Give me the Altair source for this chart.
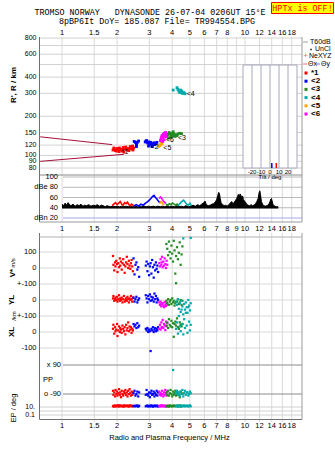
import altair as alt
import pandas as pd

N = float("nan")

# ---------------- data ----------------
series_names = ["*1", "<2", "<3", "<4", "<5", "<6"]
series_colors = ["#ff0000", "#0000ff", "#228b22", "#00aaaa", "#ffa500", "#ff00ff"]

freq_ticks = [1, 1.5, 2, 3, 4, 5, 6, 7, 8, 10, 12, 14, 16, 18]
freq_ticks_mid = [1, 1.5, 2, 3, 4, 5, 6, 7, 8, 9, 10, 12, 14, 16, 18]
freq_grid = [1, 1.5, 2, 3, 4, 5, 6, 7, 8, 9, 10, 12, 14, 16, 18]

range_ticks = [800, 600, 400, 300, 200, 150, 120, 100, 90, 80]
range_grid = [800, 700, 600, 500, 400, 300, 200, 150, 120, 100, 90, 80]

db_ticks = ["100", "dBe 80", "60", "40", "dBn 20"]
db_vals = [100, 80, 60, 40, 20]

tilt_ticks = [-20, -10, 0, 10, 20]
tilt_x = 7   # Theta x
tilt_y = 2   # Theta y

# model traces (dark red)
model_upper_f = [0.76, 1.88]
model_upper_r = [139, 121]
model_lower_f = [0.76, 2.18]
model_lower_r = [90, 102]

# echo ranges (top panel)
red_f = [1.90, 1.93, 1.96, 2.00, 2.03, 2.06, 2.10, 2.13, 2.16, 2.20, 2.23, 2.26, 2.30, 2.33, 2.36, 2.40, 2.43, 2.46,
         1.92, 1.98, 2.05, 2.12, 2.18, 2.25, 2.32, 2.38, 2.44]
red_r = [110, 112, 109, 113, 111, 114, 110, 108, 115, 112, 116, 111, 110, 113, 117, 112, 118, 114,
         114, 108, 107, 111, 106, 113, 109, 115, 110]
blue_f = [2.48, 2.52, 2.55, 2.58, 2.62, 2.55, 2.55,
          2.85, 2.88, 2.92, 2.95, 2.98, 3.02, 3.05, 3.08, 3.12, 3.15, 3.18, 3.22, 3.26, 3.30, 2.90, 2.97, 3.10]
blue_r = [128, 126, 123, 126, 129, 120, 117,
          127, 129, 126, 124, 127, 123, 126, 121, 119, 123, 125, 121, 124, 126, 130, 118, 117]
mag_f = [3.45, 3.48, 3.50, 3.52, 3.55, 3.58, 3.60, 3.62, 3.65, 3.68, 3.70, 3.72, 3.55, 3.62]
mag_r = [130, 134, 138, 142, 136, 145, 140, 148, 143, 150, 146, 139, 128, 132]
orange_f = [3.38, 3.42, 3.45, 3.48, 3.52]
orange_r = [117, 119, 121, 124, 122]
green_f = [3.75, 3.80, 3.85, 3.90, 3.95, 4.00, 4.05, 4.10, 4.20, 4.30, 4.40, 4.50, 3.82, 3.92, 4.02, 4.15, 4.25]
green_r = [140, 145, 150, 147, 143, 148, 152, 146, 144, 146, 148, 147, 136, 138, 141, 140, 142]
cyan_f = [4.05, 4.25, 4.30, 4.35, 4.40, 4.45, 4.50, 4.55, 4.60, 4.65, 4.70]
cyan_r = [318, 332, 322, 312, 304, 318, 312, 300, 306, 302, 298]

echo_label_text = ["*1", "<2", "<3", "<4", "<5", "<6"]
echo_label_f = [2.12, 3.05, 4.30, 4.80, 3.58, 3.70]
echo_label_r = [107, 117, 136, 296, 115, 131]

# amplitude panel
noise_f = [1.00, 1.02, 1.04, 1.06, 1.08, 1.10, 1.12, 1.15, 1.18, 1.21,
           1.24, 1.27, 1.30, 1.33, 1.36, 1.40, 1.44, 1.48, 1.52, 1.56,
           1.60, 1.64, 1.68, 1.72, 1.76, 1.80, 1.85, 1.90, 1.95, 2.00,
           2.06, 2.12, 2.18, 2.24, 2.30, 2.37, 2.44, 2.51, 2.58, 2.65,
           2.73, 2.81, 2.89, 2.97, 3.06, 3.15, 3.24, 3.34, 3.44, 3.54,
           3.65, 3.76, 3.87, 3.99, 4.11, 4.23, 4.36, 4.49, 4.62, 4.76,
           4.90, 5.05, 5.20, 5.35, 5.50, 5.65, 5.80, 5.95, 6.05, 6.15,
           6.30, 6.45, 6.60, 6.75, 6.90, 7.00, 7.10, 7.18, 7.25, 7.32,
           7.40, 7.55, 7.70, 7.85, 8.00, 8.15, 8.30, 8.45, 8.60, 8.75,
           8.90, 9.00, 9.10, 9.20, 9.30, 9.40, 9.50, 9.60, 9.70, 9.80,
           9.90, 10.0, 10.1, 10.2, 10.4, 10.6, 10.8, 11.0, 11.2, 11.4,
           11.6, 11.8, 11.95, 12.05, 12.15, 12.3, 12.5, 12.7, 12.9, 13.1,
           13.3, 13.5, 13.7, 13.85, 13.95, 14.05, 14.2, 14.4, 14.6, 14.8,
           15.0, 15.2]
noise_db = [47, 44, 49, 45, 50, 46, 44, 47, 43, 46,
            44, 47, 43, 45, 44, 46, 43, 45, 44, 46,
            43, 45, 44, 42, 44, 43, 42, 43, 42, 43,
            42, 43, 42, 43, 42, 43, 42, 43, 42, 43,
            42, 43, 42, 43, 42, 43, 42, 43, 42, 43,
            42, 44, 42, 43, 42, 44, 42, 43, 42, 44,
            42, 43, 45, 43, 46, 44, 47, 50, 53, 46,
            44, 45, 47, 48, 52, 56, 64, 70, 68, 58,
            50, 46, 44, 45, 43, 46, 49, 52, 48, 51,
            55, 58, 62, 66, 61, 67, 64, 60, 63, 56,
            54, 52, 50, 47, 45, 44, 46, 44, 45, 48,
            52, 58, 70, 73, 66, 52, 46, 44, 43, 44,
            45, 47, 52, 57, 58, 54, 47, 44, 43, 42,
            42, 42]

amp_red_f = [1.88, 1.92, 1.96, 2.00, 2.04, 2.08, 2.12, 2.16, 2.20, 2.24, 2.28, 2.32, 2.36, 2.40, 2.44, 2.48]
amp_red_db = [44, 47, 50, 46, 49, 52, 47, 45, 50, 48, 51, 46, 44, 47, 45, 43]
amp_blue_f = [2.48, 2.55, 2.62, 2.70, 2.78, 2.86, 2.94, 3.00, 3.06, 3.12, 3.18, 3.24, 3.30, 3.36, 3.42]
amp_blue_db = [44, 46, 43, 47, 45, 49, 52, 55, 58, 62, 64, 60, 57, 53, 50]
amp_mag_f = [3.40, 3.45, 3.50, 3.55, 3.60, 3.65, 3.70]
amp_mag_db = [58, 61, 59, 55, 52, 50, 48]
amp_orange_f = [3.42, 3.47, 3.52, 3.57, 3.62]
amp_orange_db = [48, 52, 50, 47, 45]
amp_green_f = [3.70, 3.78, 3.86, 3.94, 4.02, 4.10, 4.18, 4.26, 4.34]
amp_green_db = [47, 45, 48, 46, 49, 47, 45, 47, 44]
amp_cyan_f = [4.30, 4.38, 4.46, 4.54, 4.62, 4.70, 4.80, 4.90, 5.00, 5.08]
amp_cyan_db = [44, 47, 50, 53, 55, 51, 47, 45, 49, 44]

# lower panel: V*, YL, XL, PP, EP per echo
red_lf = [1.90, 1.91, 1.93, 1.95, 1.96, 1.98, 2.00, 2.01, 2.03, 2.05, 2.07, 2.08, 2.10, 2.12, 2.14,
          2.16, 2.18, 2.20, 2.22, 2.24, 2.26, 2.28, 2.30, 2.32, 2.34, 2.36, 2.38, 2.40, 2.42, 2.44]
red_v = [75, 20, -15, 35, 10, 45, 25, -25, 30, 5, 60, 15, 40, -10, 30, 55, 20, -30, 10, 35, 70, 25, 0, 45, 15, -5, 30, 50, 10, -20]
red_yl = [10, 25, -5, 5, 15, 0, 20, -10, 5, 30, -5, 10, 0, 15, -15, 5, 25, -10, 0, 10, -5, 20, 5, -15, 10, 0, 25, 5, -10, 15]
red_xl = [20, 45, -10, 30, 5, 15, 50, -25, 10, 35, 0, 25, 15, -5, 40, 20, 5, 30, -15, 45, 10, 25, 60, 5, 35, 15, 30, -5, 20, 10]
red_pp = [-70, -95, -80, -105, -65, -90, -75, -100, -85, -60, -95, -80, -110, -70, -90, -100, -75, -85, -65, -95,
          -80, -105, -70, -90, -60, -85, -100, -75, -95, -80]
red_ep = [15, 20, 12, 25, 18, 14, 22, 16, 28, 13, 19, 24, 15, 21, 17, 12, 26, 14, 20, 18, 23, 15, 19, 13, 27, 16, 22, 18, 14, 20]

blue_lf = [2.46, 2.49, 2.52, 2.55, 2.58, 2.61, 2.64, 2.87, 2.90, 2.93, 2.96, 2.99, 3.02, 3.05, 3.08, 3.11,
           3.14, 3.17, 3.20, 3.23, 3.26, 3.29, 3.32, 3.35]
blue_v = [60, -40, 20, 35, -10, 5, -55, 15, 40, -20, 25, -45, 10, 30, -35, 50, 5, -60, 20, -15, 35, -5, 15, -25]
blue_yl = [15, -10, 5, 20, -15, 0, 10, 30, 10, -15, 25, 5, 35, -5, 20, 0, 15, -10, 40, 5, 25, -15, 10, 0]
blue_xl = [50, 35, 45, 25, 55, 30, 40, 20, 10, 25, 0, 15, 5, -119, 20, 10, 30, 0, 15, 25, 5, 20, 10, 30]
blue_pp = [-85, -70, -100, -90, -75, -105, -80, -95, -65, -90, -100, -80, -110, -85, -70, -95, -90, -75, -105,
           -85, -95, -70, -100, -80]
blue_ep = [18, 14, 22, 16, 25, 12, 20, 15, 19, 23, 13, 17, 21, 14, 26, 18, 12, 20, 16, 24, 15, 19, 22, 13]

mag_lf = [3.40, 3.43, 3.46, 3.49, 3.52, 3.55, 3.58, 3.61, 3.64, 3.67, 3.70, 3.73, 3.76, 3.50]
mag_v = [30, 10, 55, 20, 70, 5, 40, 15, 60, 25, 0, 45, 20, 35]
mag_yl = [-15, -30, -10, -40, -25, -20, -35, -45, -12, -28, -38, -18, -30, -22]
mag_xl = [20, 45, 15, 60, 30, 75, 25, 50, 40, 12, 65, 35, 55, 28]
mag_pp = [-75, -95, -85, -100, -70, -90, -105, -80, -95, -65, -85, -100, -75, -90]
mag_ep = [16, 22, 13, 19, 25, 15, 20, 14, 23, 18, 12, 21, 17, 24]

green_lf = [3.72, 3.76, 3.80, 3.84, 3.88, 3.92, 3.96, 4.00, 4.04, 4.08, 4.12, 4.16, 4.20, 4.25, 4.30,
            4.35, 4.40, 4.45, 4.50, 4.55]
green_v = [150, 120, 80, 165, 100, 60, 140, 90, 40, 170, 110, -35, 75, 130, 55, 95, 160, 20, 85, 135]
green_yl = [-5, -20, 5, -30, -10, 0, -25, 10, -15, -5, -35, -20, 105, -10, 5, -25, -15, 0, -30, -5]
green_xl = [40, 60, 25, 80, 45, 35, 70, 30, 55, -30, 50, 65, 40, 85, 30, 20, 60, 45, 35, 50]
green_pp = [-80, -95, -70, -100, -85, -65, -90, -105, -75, -95, -85, -70, -100, -90, -80, -95, -110, -75, -85, -90]
green_ep = [18, 14, 22, 12, 25, 16, 20, 13, 19, 24, 15, 21, 17, 23, 14, 18, 26, 13, 20, 16]

cyan_lf = [4.05, 4.20, 4.25, 4.30, 4.35, 4.40, 4.45, 4.50, 4.55, 4.60, 4.65, 4.70, 4.75, 4.80, 4.85,
           4.90, 4.95, 5.00, 5.05]
cyan_v = [N, N, N, N, N, N, N, N, N, 185, N, N, N, N, N, N, N, N, 188]
cyan_yl = [N, -10, -30, 5, -55, -20, -75, -5, -40, -90, -25, -60, -15, -45, -80, 0, -35, -65, -20]
cyan_xl = [N, 20, 60, -10, 100, 35, 5, 140, 50, -15, 80, 25, 120, 40, -5, 155, 65, 10, 45]
cyan_pp = [59, -85, -70, -95, -80, -100, -75, -90, -65, -105, -85, -70, -95, -80, -80, -100, -90, -75, -85]
cyan_ep = [N, 15, 20, 13, 24, 18, 12, 22, 16, 19, 25, 14, 21, 17, 23, 13, 18, 26, 15]

# ---------------- helpers ----------------
SANS = "Liberation Sans"
MONO = "Liberation Mono"
COL = dict(zip(series_names, series_colors))

SCALES = {
    "R": ("log", [80, 800], [168, 38]),
    "DB": ("linear", [20, 100], [218, 177]),
    "V": ("linear", [-100, 100], [284, 252]),
    "YL": ("linear", [-100, 100], [316, 284]),
    "XL": ("linear", [-100, 100], [348, 316]),
    "PP": ("linear", [-90, 90], [394, 365]),
    "EP": ("log", [0.1, 10], [415, 407]),
    "TILT": ("linear", [-30, 30], [243, 297]),
    "LEG": ("linear", [0, 5], [73, 114]),
}


def sc(kind):
    t, d, r = SCALES[kind]
    if t == "log":
        return alt.Scale(type="log", domain=d, range=r)
    return alt.Scale(type="linear", domain=d, range=r, zero=False, nice=False)


def fx(field="f"):
    return alt.X(f"{field}:Q", scale=alt.Scale(type="log", domain=[1, 10], range=[62, 245]), axis=None)


def fy(field, kind):
    return alt.Y(f"{field}:Q", scale=sc(kind), axis=None)


ONE = pd.DataFrame({"k": [0]})


def seg(x1, y1, x2, y2, color, w=1.0):
    return alt.Chart(ONE).mark_rule(color=color, strokeWidth=w).encode(
        x=alt.value(x1), y=alt.value(y1), x2=alt.value(x2), y2=alt.value(y2))


def label(text, x, y, size=8, align="center", color="black", font=SANS, weight="normal", angle=0):
    kw = dict(text=text, fontSize=size, align=align, baseline="middle", color=color, font=font, fontWeight=weight)
    if angle:
        kw["angle"] = angle
    return alt.Chart(ONE).mark_text(**kw).encode(x=alt.value(x), y=alt.value(y))


def hgrid(values, kind, color, x0=40, x1=302, w=1.0):
    df = pd.DataFrame({"v": values})
    return alt.Chart(df).mark_rule(color=color, strokeWidth=w).encode(
        y=fy("v", kind), x=alt.value(x0), x2=alt.value(x1))


def ylabels(texts, values, kind, x, align="right", size=7.5):
    df = pd.DataFrame({"t": texts, "v": values})
    return alt.Chart(df).mark_text(fontSize=size, font=SANS, align=align, baseline="middle").encode(
        y=fy("v", kind), x=alt.value(x), text="t:N")


def flabels(ticks, y):
    df = pd.DataFrame({"f": ticks, "t": [str(t) for t in ticks]})
    return alt.Chart(df).mark_text(fontSize=7.5, font=SANS, align="center", baseline="middle").encode(
        x=fx(), y=alt.value(y), text="t:N")


def long(pairs, fname, vname):
    frames = []
    for fs, vs, name in pairs:
        d = pd.DataFrame({fname: fs, vname: vs})
        d["col"] = COL[name]
        frames.append(d.dropna())
    return pd.concat(frames, ignore_index=True)


layers = []

# ---- grids ----
vg = pd.DataFrame({"f": freq_grid})
layers.append(alt.Chart(vg).mark_rule(color="#dadada").encode(x=fx(), y=alt.value(37), y2=alt.value(222)))
layers.append(alt.Chart(vg).mark_rule(color="#dadada").encode(x=fx(), y=alt.value(233), y2=alt.value(422)))
layers.append(hgrid(range_grid, "R", "#d2d2d2"))
layers.append(hgrid([100, 80, 60, 40], "DB", "#b8b8b8", x0=63))
layers.append(hgrid([20], "DB", "#a8a8f0", x0=63))
layers.append(hgrid([100, 0, -100], "V", "#d8d8d8"))
layers.append(hgrid([0, -100], "YL", "#d8d8d8"))
layers.append(hgrid([0, -100], "XL", "#d8d8d8"))
layers.append(hgrid([90, -90], "PP", "#8a8a8a", x0=63))
layers.append(hgrid([10, 1, 0.1], "EP", "#d0d0d0"))

# ---- frames ----
for s in [seg(39.5, 37, 39.5, 222, "#707070"), seg(39.5, 233, 39.5, 419.5, "#707070"),
          seg(302, 37, 302, 222, "#9a9a9a"), seg(302, 233, 302, 419.5, "#9a9a9a"),
          seg(39.5, 175, 302, 175, "#8a8a8a"), seg(39.5, 222, 302, 222, "#9a9a9a"),
          seg(39.5, 237, 302, 237, "#b0b0b0"), seg(39.5, 419.5, 302, 419.5, "#707070")]:
    layers.append(s)

# ---- range panel ----
model = pd.concat([
    pd.DataFrame({"f": model_upper_f, "r": model_upper_r, "id": "u"}),
    pd.DataFrame({"f": model_lower_f, "r": model_lower_r, "id": "l"}),
])
layers.append(alt.Chart(model).mark_line(color="#a8103c", strokeWidth=1).encode(
    x=fx(), y=fy("r", "R"), detail="id:N"))

echo = long([(red_f, red_r, "*1"), (blue_f, blue_r, "<2"), (green_f, green_r, "<3"),
             (cyan_f, cyan_r, "<4"), (orange_f, orange_r, "<5"), (mag_f, mag_r, "<6")], "f", "r")
layers.append(alt.Chart(echo).mark_square(size=8, opacity=1).encode(
    x=fx(), y=fy("r", "R"), color=alt.Color("col:N", scale=None)))

elab = pd.DataFrame({"f": echo_label_f, "r": echo_label_r, "t": echo_label_text})
layers.append(alt.Chart(elab).mark_text(fontSize=7, font=SANS, align="left",
                                        baseline="middle", color="black").encode(
    x=fx(), y=fy("r", "R"), text="t:N"))

# ---- tilt inset ----
layers.append(alt.Chart(ONE).mark_rect(fill="white", stroke="#a8a8bc", strokeWidth=1).encode(
    x=alt.value(243), x2=alt.value(297), y=alt.value(65), y2=alt.value(168)))
tt = pd.DataFrame({"t": tilt_ticks, "s": [str(t) for t in tilt_ticks]})
layers.append(alt.Chart(tt).mark_rule(color="#a8a8bc").encode(
    x=alt.X("t:Q", scale=sc("TILT"), axis=None), y=alt.value(65), y2=alt.value(168)))
layers.append(alt.Chart(tt).mark_text(fontSize=6, font=SANS, baseline="middle").encode(
    x=alt.X("t:Q", scale=sc("TILT"), axis=None), y=alt.value(171.5), text="s:N"))
tm = pd.DataFrame({"t": [tilt_y, tilt_x], "c": ["#0000ff", "#ff0000"]})
layers.append(alt.Chart(tm).mark_rule(strokeWidth=1.5).encode(
    x=alt.X("t:Q", scale=sc("TILT"), axis=None), y=alt.value(163), y2=alt.value(168),
    color=alt.Color("c:N", scale=None)))
layers.append(label("Tilt / deg", 270, 177, size=6))

# ---- amplitude panel ----
noise = pd.DataFrame({"f": noise_f, "db": noise_db})
layers.append(alt.Chart(noise).mark_area(color="black", opacity=1).encode(
    x=fx(), y=fy("db", "DB"), y2=alt.datum(38.5)))
layers.append(alt.Chart(noise).mark_line(color="black", strokeWidth=1).encode(
    x=fx(), y=fy("db", "DB")))
amp = long([(amp_red_f, amp_red_db, "*1"), (amp_blue_f, amp_blue_db, "<2"),
            (amp_green_f, amp_green_db, "<3"), (amp_cyan_f, amp_cyan_db, "<4"),
            (amp_orange_f, amp_orange_db, "<5"), (amp_mag_f, amp_mag_db, "<6")], "f", "db")
layers.append(alt.Chart(amp).mark_line(strokeWidth=1.6).encode(
    x=fx(), y=fy("db", "DB"), color=alt.Color("col:N", scale=None), detail="col:N"))

# ---- lower panel ----
params = [("V", [red_v, blue_v, mag_v, green_v, cyan_v]),
          ("YL", [red_yl, blue_yl, mag_yl, green_yl, cyan_yl]),
          ("XL", [red_xl, blue_xl, mag_xl, green_xl, cyan_xl]),
          ("PP", [red_pp, blue_pp, mag_pp, green_pp, cyan_pp]),
          ("EP", [red_ep, blue_ep, mag_ep, green_ep, cyan_ep])]
lfs = [(red_lf, "*1"), (blue_lf, "<2"), (mag_lf, "<6"), (green_lf, "<3"), (cyan_lf, "<4")]
for kind, vals in params:
    d = long([(lf, v, nm) for (lf, nm), v in zip(lfs, vals)], "f", "v")
    layers.append(alt.Chart(d).mark_square(size=5, opacity=1).encode(
        x=fx(), y=fy("v", kind), color=alt.Color("col:N", scale=None)))

# ---- tick labels ----
layers.append(flabels(freq_ticks, 33))
layers.append(flabels(freq_ticks_mid, 229))
layers.append(flabels(freq_ticks, 426))
layers.append(ylabels([str(v) for v in range_ticks], range_ticks, "R", 36.5, size=7))
layers.append(ylabels(db_ticks, db_vals, "DB", 58))
layers.append(ylabels(["100", "0", "+-100"], [100, 0, -100], "V", 36.5))
layers.append(ylabels(["0", "+-100"], [0, -100], "YL", 36.5))
layers.append(ylabels(["0", "-100"], [0, -100], "XL", 36.5))
layers.append(ylabels(["x 90", "o -90"], [90, -90], "PP", 61))
layers.append(ylabels(["10.", "0.1"], [10, 0.1], "EP", 35, size=7))
layers.append(label("PP", 43, 380, size=7.5, align="left"))

# ---- axis titles ----
layers.append(label("R', R / km", 13.5, 85, weight="bold", angle=270))
layers.append(label("V*", 13, 273, weight="bold", angle=270))
layers.append(label("m/s", 13, 263, size=6, angle=270))
layers.append(label("YL", 12, 300, weight="bold", angle=270))
layers.append(label("/km", 14, 316, size=6, angle=270))
layers.append(label("XL", 12, 332, weight="bold", angle=270))
layers.append(label("EP / deg", 14, 408, size=7.5, angle=270))
layers.append(label("Radio and Plasma Frequency / MHz", 169.5, 438, size=7.5))

# ---- header ----
layers.append(label("TROMSO NORWAY\u00a0\u00a0\u00a0DYNASONDE 26-07-04 0206UT 15\u00b0E", 150, 12, size=8.4, font=MONO))
layers.append(label("8pBP6It DoY= 185.087 File= TR994554.BPG", 157, 20.5, size=8.4, font=MONO))
layers.append(alt.Chart(ONE).mark_rect(fill="#ffff00", stroke="#ff0000", strokeWidth=1).encode(
    x=alt.value(271.5), x2=alt.value(333.5), y=alt.value(2.5), y2=alt.value(13.5)))
layers.append(label("HPTx is OFF!", 302.5, 8.3, size=8.4, font=MONO, color="#ff0000"))

# ---- legend ----
layers.append(seg(303, 42, 308, 42, "#a0a0a0"))
layers.append(label("T60dB", 310, 42, size=7, align="left"))
layers.append(alt.Chart(ONE).mark_square(size=2, color="black", opacity=1).encode(x=alt.value(311), y=alt.value(49.5)))
layers.append(label("UnCl", 315, 49, size=7, align="left"))
layers.append(label("+", 305.5, 56, size=8, color="#ff6080"))
layers.append(label("NeXYZ", 309, 56, size=7, align="left"))
layers.append(seg(303, 64, 307, 64, "#ff7070"))
layers.append(label("\u0398x", 308, 64, size=7, align="left"))
layers.append(seg(316, 64, 320, 64, "#7070ff"))
layers.append(label("\u0398y", 321, 64, size=7, align="left"))
leg = pd.DataFrame({"i": list(range(6)), "t": series_names, "c": series_colors})
layers.append(alt.Chart(leg).mark_square(size=9, opacity=1).encode(
    x=alt.value(306), y=fy("i", "LEG"), color=alt.Color("c:N", scale=None)))
layers.append(alt.Chart(leg).mark_text(fontSize=8, font=SANS, fontWeight="bold", align="left",
                                       baseline="middle", color="black").encode(
    x=alt.value(311), y=fy("i", "LEG"), text="t:N"))

chart = alt.layer(*layers).resolve_scale(x="independent", y="independent").properties(
    width=335, height=451, autosize=alt.AutoSizeParams(type="none"), padding=0, background="white"
).configure_view(strokeWidth=0)

chart.save("out.html", embed_options={"renderer": "svg", "actions": False})
